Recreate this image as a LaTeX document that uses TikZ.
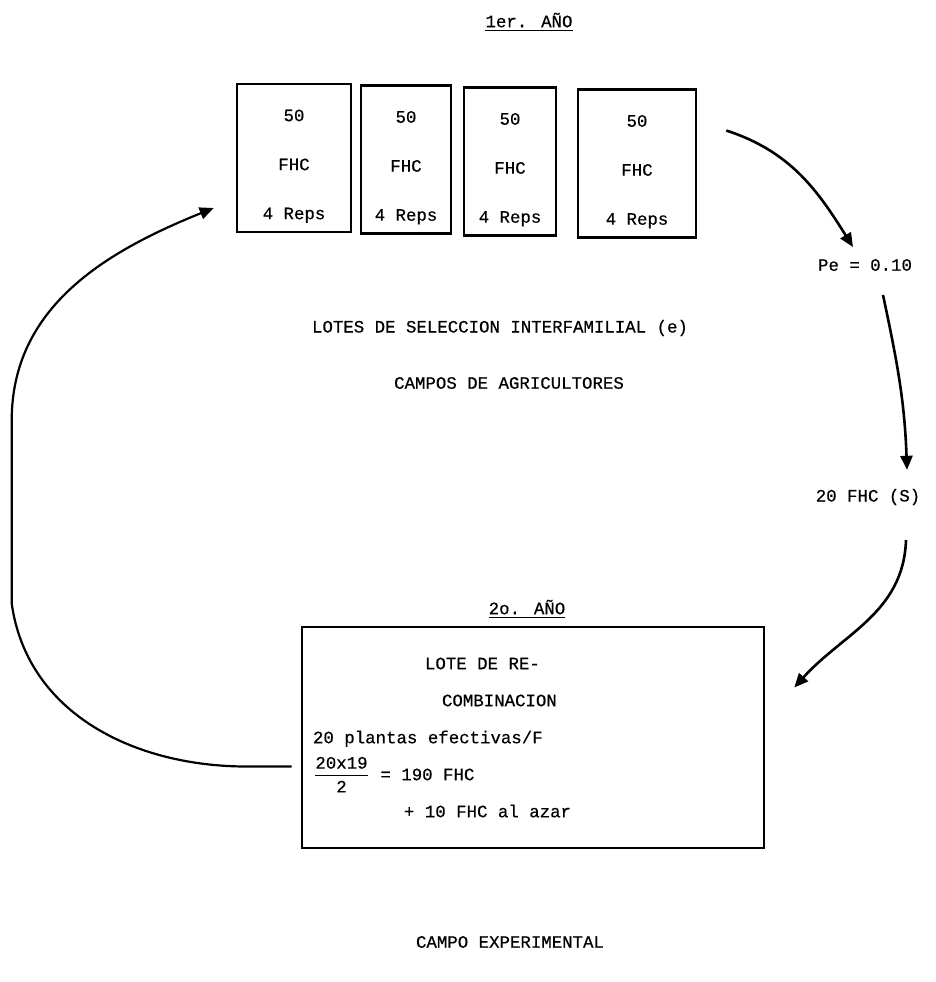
\documentclass[tikz,border=0pt]{standalone}
\usepackage{amsmath}
\usepackage{fontspec}
\setmainfont{Liberation Mono}[FakeBold=0.5]
\usepackage{tikz}
\usetikzlibrary{positioning,arrows.meta,calc}
\newcommand{\lotetxt}{\rule{0pt}{14pt}50\\FHC\\4 Reps}

\begin{document}
\begin{tikzpicture}[
          x=0.5pt, y=-0.5pt,
          lbl/.style={font=\fontsize{8.7}{10}\selectfont},
          lote/.style={draw, line width=1.3pt, minimum height=74pt, inner sep=0pt,
                       align=center, font=\fontsize{8.7}{24.5}\selectfont},
          flecha/.style={-{Triangle[length=7pt,width=6pt]}, line width=1.3pt}
      ]
        \useasboundingbox (0,0) rectangle (936,982);
        \node[lbl] (anio1) at (529,22) {\underline{1er. AÑO}};
        \node[lote, minimum width=57pt] (box1) at (294,158) {\lotetxt};
        \node[lote, minimum width=45pt] (box2) at (406,159.5) {\lotetxt};
        \node[lote, minimum width=46pt] (box3) at (510,161.5) {\lotetxt};
        \node[lote, minimum width=59pt] (box4) at (637,163.5) {\lotetxt};
        \node[lbl] (pe) at (865,265) {Pe = 0.10};
        \node[lbl] (lotes) at (500,328) {LOTES DE SELECCION INTERFAMILIAL (e)};
        \node[lbl] (campos) at (509,383) {CAMPOS DE AGRICULTORES};
        \node[lbl] (s20) at (868,497) {20 FHC (S)};
        \node[lbl] (anio2) at (527,609) {\underline{2o. AÑO}};
        \node[draw, line width=1.3pt, minimum width=231pt, minimum height=110.5pt,
              align=left, font=\fontsize{8.7}{18.5}\selectfont] (recomb) at (533,737.5)
              {\makebox[220pt][l]{\hspace*{56pt}LOTE DE RE-}\\
               \hspace*{64.5pt}COMBINACION\\
               20 plantas efectivas/F\\
               $\dfrac{\mbox{20x19}}{\mbox{2}}$ = 190 FHC\\
               \hspace*{45.5pt}+ 10 FHC al azar};
        \node[lbl] (campoexp) at (510,942) {CAMPO EXPERIMENTAL};
        \draw[flecha] ([shift={(29,-33)}]box4.east) to[out=-18,in=122] ([shift={(-12,-5)}]pe.north);
        \draw[flecha] ([shift={(18,17)}]pe.south) to[out=-78,in=92] ([shift={(39,-12)}]s20.north);
        \draw[flecha] ([shift={(38,28)}]s20.south) to[out=-92,in=48] ([shift={(29,-50)}]recomb.east);
        \draw[flecha, line width=1.1pt] ([shift={(-9,29)}]recomb.west) -- ++(-45,0)
              to[out=180,in=-82] ++(-235,-163) -- ++(0,-183)
              to[out=90,in=202] ([shift={(-22,50)}]box1.west);
      \end{tikzpicture}
\end{document}
